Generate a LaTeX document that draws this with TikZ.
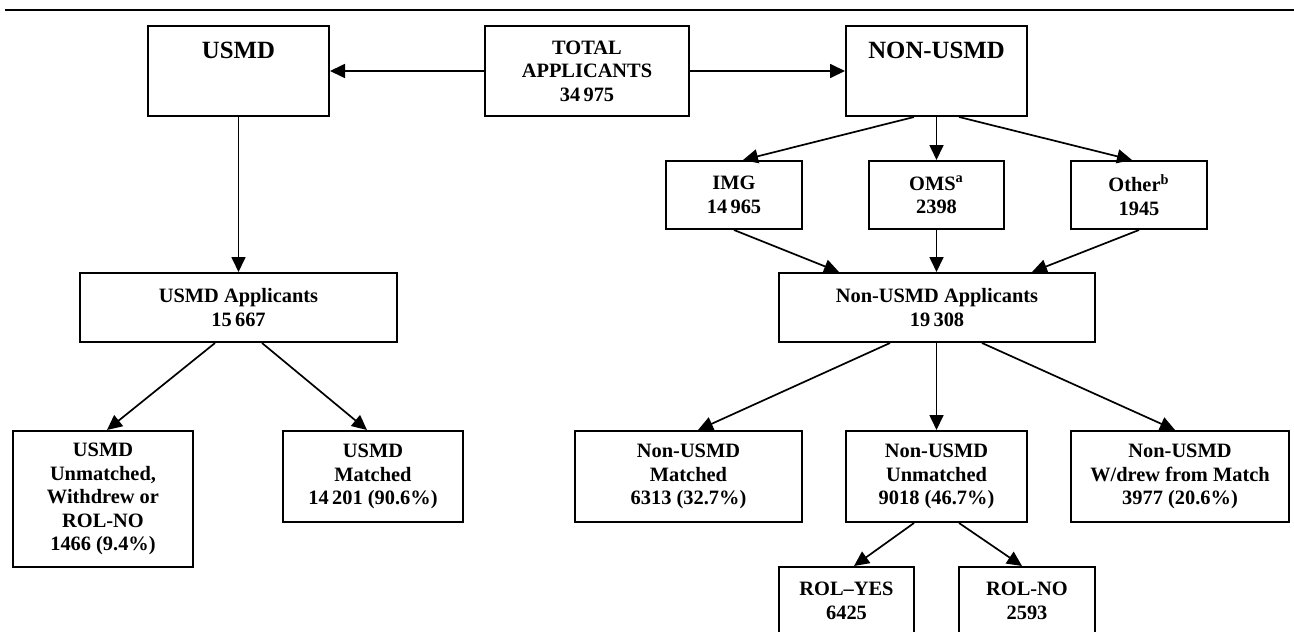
\documentclass[tikz,border=0pt]{standalone}
\usepackage{fontspec}
\setmainfont{Liberation Serif}
\usetikzlibrary{arrows.meta,calc}

\begin{document}
\begin{tikzpicture}[x=0.5pt,y=-0.5pt,
  box/.style={draw,line width=1pt,inner sep=0pt,align=center,
    font=\bfseries\fontsize{10.2}{11.75}\selectfont},
  head/.style={anchor=north,inner sep=0pt,yshift=-8.5pt,
    font=\bfseries\fontsize{12.4}{14}\selectfont},
  arr/.style={line width=0.85pt,-{Triangle[length=7.5pt,width=7pt]}}]
  \clip (0,0) rectangle (1294,631);
  \useasboundingbox (0,0) rectangle (1294,631);

  % Rule
  \draw[line width=0.6pt] (5,10) -- (1294,10);

  % Top row
  \node[box,minimum width=90.5pt,minimum height=45pt,
    label={[head]north:USMD}] (usmd) at (238.5,71) {};
  \node[box,minimum width=102pt,minimum height=45pt] (total) at (587,71)
    {TOTAL\\APPLICANTS\\34\,975};
  \node[box,minimum width=90.5pt,minimum height=45pt,
    label={[head]north:NON-USMD}] (nonusmd) at (936.5,71) {};

  % Non-USMD groups
  \node[box,minimum width=68pt,minimum height=34pt] (img) at (734,195)
    {IMG\\14\,965};
  \node[box,minimum width=67.5pt,minimum height=34pt] (oms) at (936.5,195)
    {OMS\textsuperscript{a}\\2398};
  \node[box,minimum width=68pt,minimum height=34pt] (other) at (1139,195)
    {Other\textsuperscript{b}\\1945};

  % Applicants
  \node[box,minimum width=158.5pt,minimum height=34.5pt] (usmdapp) at (238.5,307.5)
    {USMD Applicants\\15\,667};
  \node[box,minimum width=158pt,minimum height=34.5pt] (nonapp) at (937,307.5)
    {Non-USMD Applicants\\19\,308};

  % Outcomes
  \node[box,minimum width=90pt,minimum height=68pt] (usmdunm) at (103,499)
    {USMD\\Unmatched,\\Withdrew or\\ROL-NO\\1466 (9.4\%)};
  \node[box,minimum width=90pt,minimum height=45.5pt] (usmdmat) at (373,476.5)
    {USMD\\Matched\\14\,201 (90.6\%)};
  \node[box,minimum width=113.5pt,minimum height=45.5pt] (nonmat) at (688.5,476.5)
    {Non-USMD\\Matched\\6313 (32.7\%)};
  \node[box,minimum width=90.5pt,minimum height=45.5pt] (nonunm) at (936.5,476.5)
    {Non-USMD\\Unmatched\\9018 (46.7\%)};
  \node[box,minimum width=109pt,minimum height=45.5pt] (nonwd) at (1180,476.5)
    {Non-USMD\\W/drew from Match\\3977 (20.6\%)};

  % ROL
  \node[box,minimum width=67.5pt,minimum height=34pt] (rolyes) at (846.5,601)
    {ROL--YES\\6425};
  \node[box,minimum width=68pt,minimum height=34pt] (rolno) at (1027,601)
    {ROL-NO\\2593};

  % Arrows
  \draw[arr] (total.west) -- (usmd.east);
  \draw[arr] (total.east) -- (nonusmd.west);
  \draw[arr] (usmd.south) -- (usmdapp.north);
  \draw[arr] ($(nonusmd.south)+(-22.5,0)$) -- ($(img.north)+(9,0)$);
  \draw[arr] (nonusmd.south) -- (oms.north);
  \draw[arr] ($(nonusmd.south)+(22.5,0)$) -- ($(other.north)+(-7,0)$);
  \draw[arr] (img.south) -- ($(nonapp.north)+(-98,0)$);
  \draw[arr] (oms.south) -- (oms.south |- nonapp.north);
  \draw[arr] (other.south) -- ($(nonapp.north)+(95,0)$);
  \draw[arr] ($(usmdapp.south)+(-23.5,0)$) -- ($(usmdunm.north)+(4,0)$);
  \draw[arr] ($(usmdapp.south)+(23.5,0)$) -- ($(usmdmat.north)+(-6,0)$);
  \draw[arr] ($(nonapp.south)+(-47,0)$) -- ($(nonmat.north)+(9.5,0)$);
  \draw[arr] (nonunm.north |- nonapp.south) -- (nonunm.north);
  \draw[arr] ($(nonapp.south)+(45,0)$) -- ($(nonwd.north)+(-5,0)$);
  \draw[arr] ($(nonunm.south)+(-22.5,0)$) -- ($(rolyes.north)+(7.5,0)$);
  \draw[arr] ($(nonunm.south)+(22.5,0)$) -- ($(rolno.north)+(-5,0)$);
\end{tikzpicture}
\end{document}
